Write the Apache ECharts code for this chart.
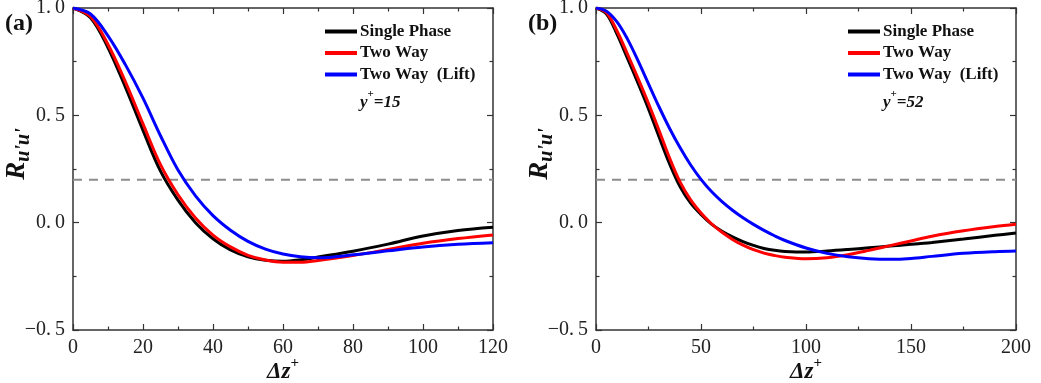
<!DOCTYPE html>
<html>
<head>
<meta charset="utf-8">
<script src="https://cdn.jsdelivr.net/npm/echarts@6/dist/echarts.min.js"></script>
<style>
  html, body { margin: 0; padding: 0; background: #fff; }
  #chart { width: 1041px; height: 383px; }
</style>
</head>
<body>
<div id="chart"></div>
<script>
// ---------- data ----------
const seriesNames = ['Single Phase', 'Two Way', 'Two Way  (Lift)'];
const panelTags = ['(a)', '(b)'];
const yPlusLabels = ['15', '52'];
const refLevel = 0.2;

// panel (a): y+ = 15, Δz+ 0..120
const xA = [0, 5, 10, 15, 20, 25, 30, 35, 40, 45, 50, 55, 60, 65, 70, 80, 90, 100, 110, 120];
const singleA = [1.0, 0.955, 0.815, 0.63, 0.43, 0.24, 0.105, 0.0, -0.075, -0.127, -0.159, -0.175, -0.18, -0.173, -0.16, -0.133, -0.10, -0.062, -0.036, -0.021];
const twoWayA = [1.0, 0.96, 0.83, 0.655, 0.46, 0.27, 0.13, 0.022, -0.058, -0.113, -0.152, -0.174, -0.184, -0.184, -0.176, -0.153, -0.125, -0.096, -0.074, -0.057];
const liftA = [1.0, 0.972, 0.87, 0.735, 0.58, 0.405, 0.245, 0.125, 0.033, -0.035, -0.087, -0.123, -0.146, -0.159, -0.164, -0.15, -0.131, -0.113, -0.101, -0.094];

// panel (b): y+ = 52, Δz+ 0..200
const xB = [0, 5, 10, 15, 20, 25, 30, 35, 40, 45, 50, 55, 60, 65, 70, 75, 80, 85, 90, 100, 110, 120, 130, 140, 150, 160, 175, 190, 200];
const singleB = [1.0, 0.972, 0.878, 0.765, 0.65, 0.53, 0.40, 0.275, 0.168, 0.092, 0.038, -0.007, -0.04, -0.066, -0.088, -0.106, -0.12, -0.129, -0.134, -0.137, -0.132, -0.125, -0.117, -0.109, -0.101, -0.092, -0.076, -0.059, -0.048];
const twoWayB = [1.0, 0.978, 0.893, 0.785, 0.672, 0.555, 0.43, 0.302, 0.19, 0.107, 0.045, -0.005, -0.045, -0.078, -0.105, -0.126, -0.142, -0.153, -0.161, -0.168, -0.163, -0.149, -0.129, -0.107, -0.085, -0.063, -0.038, -0.018, -0.007];
const liftB = [1.0, 0.985, 0.935, 0.855, 0.755, 0.647, 0.54, 0.44, 0.35, 0.27, 0.202, 0.145, 0.098, 0.058, 0.023, -0.008, -0.036, -0.061, -0.083, -0.118, -0.143, -0.159, -0.168, -0.171, -0.167, -0.157, -0.143, -0.135, -0.132];

// ---------- chart ----------
const colors = ['#000000', '#ff0000', '#0000ff'];
const serif = '"Liberation Serif", "DejaVu Serif", serif';
const frame = '#333333';

const panels = [
  { x: xA, ys: [singleA, twoWayA, liftA], max: 120, interval: 20, left: 73 },
  { x: xB, ys: [singleB, twoWayB, liftB], max: 200, interval: 50, left: 596 }
];

const pairs = (xs, ys) => xs.map((v, i) => [v, ys[i]]);

const grids = [], xAxes = [], yAxes = [], series = [], legends = [], titles = [];

panels.forEach((p, k) => {
  grids.push({ left: p.left, top: 8, width: 420, height: 322, containLabel: false, outerBoundsMode: 'none' });
  const xCommon = {
    type: 'value', gridIndex: k, min: 0, max: p.max, interval: p.interval,
    axisLine: { show: true, onZero: false, lineStyle: { color: frame, width: 1.5 } },
    axisTick: { show: true, inside: true, length: 6, lineStyle: { color: frame, width: 1.2 } },
    minorTick: { show: true, splitNumber: 2, length: 3.5, lineStyle: { color: frame, width: 1.2 } },
    splitLine: { show: false }
  };
  xAxes.push(Object.assign({}, xCommon, {
    position: 'bottom',
    axisLabel: { show: true, margin: 8, fontFamily: serif, fontSize: 20, color: '#222' },
    name: '{a|Δz}{b|+}', nameLocation: 'middle', nameGap: 26, nameMoveOverlap: false,
    nameTextStyle: {
      rich: {
        a: { fontFamily: serif, fontStyle: 'italic', fontWeight: 'bold', fontSize: 23, lineHeight: 28, verticalAlign: 'bottom', color: '#111' },
        b: { fontFamily: serif, fontWeight: 'bold', fontSize: 15, lineHeight: 15, verticalAlign: 'top', color: '#111' }
      }
    }
  }));
  xAxes.push(Object.assign({}, xCommon, { position: 'top', axisLabel: { show: false } }));

  const yCommon = {
    type: 'value', gridIndex: k, min: -0.5, max: 1.0, interval: 0.5,
    axisLine: { show: true, onZero: false, lineStyle: { color: frame, width: 1.5 } },
    axisTick: { show: true, inside: true, length: 6, lineStyle: { color: frame, width: 1.2 } },
    minorTick: { show: true, splitNumber: 2, length: 3.5, lineStyle: { color: frame, width: 1.2 } },
    splitLine: { show: false }
  };
  yAxes.push(Object.assign({}, yCommon, {
    position: 'left',
    axisLabel: {
      show: true, margin: 8, fontFamily: serif, fontSize: 20, color: '#222',
      formatter: v => (v < 0 ? '\u2212' : '') + Math.abs(v).toFixed(1).replace('.', '.\u2009')
    },
    name: "{R|R}{s|u'u'}", nameLocation: 'middle', nameRotate: 90, nameGap: 39, nameMoveOverlap: false,
    nameTextStyle: {
      padding: [0, 0, 0, 30],
      rich: {
        R: { fontFamily: serif, fontStyle: 'italic', fontWeight: 'bold', fontSize: 27, lineHeight: 30, verticalAlign: 'top', color: '#111' },
        s: { fontFamily: serif, fontStyle: 'italic', fontWeight: 'bold', fontSize: 20, lineHeight: 20, verticalAlign: 'bottom', color: '#111' }
      }
    }
  }));
  yAxes.push(Object.assign({}, yCommon, { position: 'right', axisLabel: { show: false } }));

  // dashed reference level
  series.push({
    type: 'line', xAxisIndex: 2 * k, yAxisIndex: 2 * k, silent: true, showSymbol: false,
    data: [[0, refLevel], [p.max, refLevel]],
    lineStyle: { color: '#8c8c8c', width: 2, type: [9, 7] }, z: 1
  });
  p.ys.forEach((ys, j) => {
    series.push({
      type: 'line', name: seriesNames[j], xAxisIndex: 2 * k, yAxisIndex: 2 * k,
      data: pairs(p.x, ys), smooth: 0.35, showSymbol: false, symbol: 'none',
      lineStyle: { color: colors[j], width: 3 }, itemStyle: { color: colors[j] }, z: 2 + j
    });
  });

  legends.push({
    data: seriesNames, orient: 'vertical', left: p.left + 252, top: 23, padding: 0,
    itemWidth: 32, itemHeight: 4, itemGap: 4.5, icon: 'rect', selectedMode: false,
    textStyle: { fontFamily: serif, fontWeight: 'bold', fontSize: 17, color: '#111', padding: [0, 0, 0, -2] }
  });

  titles.push({
    text: panelTags[k], left: p.left - 68, top: 12, padding: 0,
    textStyle: { fontFamily: serif, fontWeight: 'bold', fontSize: 24, color: '#111' }
  });
  titles.push({
    text: '{y|y}{p|+}{y|=' + yPlusLabels[k] + '}', left: p.left + 287, top: 89, padding: 0,
    textStyle: {
      rich: {
        y: { fontFamily: serif, fontStyle: 'italic', fontWeight: 'bold', fontSize: 17, lineHeight: 22, verticalAlign: 'bottom', color: '#111' },
        p: { fontFamily: serif, fontWeight: 'bold', fontSize: 11, lineHeight: 11, verticalAlign: 'top', color: '#111' }
      }
    }
  });
});

const chart = echarts.init(document.getElementById('chart'), null, { renderer: 'canvas' });
chart.setOption({
  backgroundColor: '#ffffff',
  animation: false,
  title: titles,
  legend: legends,
  grid: grids,
  xAxis: xAxes,
  yAxis: yAxes,
  series: series
});
</script>
</body>
</html>
